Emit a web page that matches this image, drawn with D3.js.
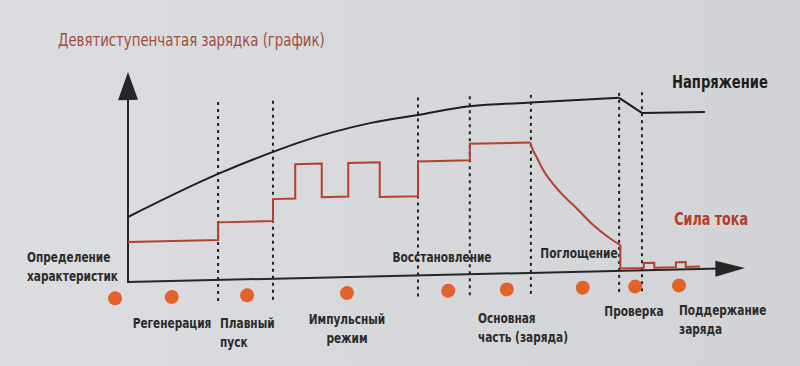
<!DOCTYPE html>
<html><head><meta charset="utf-8">
<script src="https://cdn.jsdelivr.net/npm/d3@7"></script>
<style>html,body{margin:0;padding:0;background:#d8d9dc;}svg{display:block;}</style>
</head><body>
<script>
// ---- data (abstract units: time 0..100, level 0..100) ----
const stageBounds = [14.6, 23.5, 47, 55.4, 65.3, 79.6, 83.3];
const stepTimes   = [0, 14.6, 23.5, 27.1, 31.4, 35.7, 40.8, 47, 55.4, 65.2];
const stepCurrent = [20, 28.8, 39.8, 57, 40.2, 57, 39.6, 57, 65.2, 65.2];
const decayTimes   = [65.2, 65.4, 66.2, 67.3, 70, 72.7, 75.4, 78.1, 79.8];
const decayCurrent = [65.2, 63.1, 58, 51.3, 40.2, 31.8, 23.2, 16.4, 12.9];
const tailTimes   = [79.8, 79.8, 83.6, 85.3, 88.8, 90.4, 92.7];
const tailCurrent = [12.9, 1.2, 3.6, 1.2, 3.6, 1.2, 1.2];
const voltTimes = [0, 14.6, 23.5, 27.9, 33.2, 39.4, 47, 55.4, 65.3, 79.6];
const voltValues = [32.5, 53, 63.4, 68, 72.6, 76.8, 80.2, 84, 85.2, 86.5];
const voltTailTimes = [79.6, 83.3, 93.5];
const voltTailValues = [86.5, 78.7, 78.5];
const dotTimes = [-2.1, 7.1, 19.3, 35.5, 51.9, 61.4, 73.7, 82.2, 89.3];
const title = "Девятиступенчатая зарядка (график)";
const seriesNames = ["Напряжение", "Сила тока"];
const stageLabels = [
  ["Определение", "характеристик"], ["Регенерация"], ["Плавный", "пуск"],
  ["Импульсный", "режим"], ["Восстановление"], ["Основная", "часть (заряда)"],
  ["Поглощение"], ["Проверка"], ["Поддержание", "заряда"]
];

// ---- layout ----
const W = 800, H = 366;
const FONT = "'DejaVu Sans Condensed','DejaVu Sans',sans-serif";
const labelLayout = [
  {x: 27, y: 262, a: "start"}, {x: 172, y: 328, a: "middle"}, {x: 220, y: 328, a: "start"},
  {x: 347, y: 324, a: "middle"}, {x: 442, y: 262, a: "middle"}, {x: 478, y: 323, a: "start"},
  {x: 579, y: 258, a: "middle"}, {x: 634, y: 316, a: "middle"}, {x: 679, y: 315, a: "start"}
];
const lineGap = 19;

const svg = d3.select("body").append("svg").attr("width", W).attr("height", H);
const defs = svg.append("defs");
const grad = defs.append("linearGradient").attr("id", "bg").attr("x1", 0).attr("x2", 1).attr("y1", 0).attr("y2", 0);
grad.append("stop").attr("offset", 0).attr("stop-color", "#dcdde0");
grad.append("stop").attr("offset", 1).attr("stop-color", "#d2d3d7");
svg.append("rect").attr("width", W).attr("height", H).attr("fill", "url(#bg)");

const x = d3.scaleLinear().domain([0, 100]).range([128, 745]);
const y = d3.scaleLinear().domain([0, 100]).range([282, 82]);

const g = svg.append("g")
  .attr("transform", `translate(${x(0)},${y(0)}) skewY(-1.3) translate(${-x(0)},${-y(0)})`);

// dashed stage lines
g.selectAll("line.stage").data(stageBounds).join("line")
  .attr("x1", d => x(d)).attr("x2", d => x(d))
  .attr("y1", y(89)).attr("y2", y(-12))
  .attr("stroke", "#222").attr("stroke-width", 2).attr("stroke-dasharray", "3,4");

// axes
const ink = "#262626";
g.append("line").attr("x1", x(0)).attr("x2", x(0)).attr("y1", y(0)).attr("y2", y(92))
  .attr("stroke", ink).attr("stroke-width", 2);
g.append("path").attr("d", `M${x(0)},${y(105)}L${x(0)+10},${y(91)}L${x(0)-10},${y(91)}Z`).attr("fill", ink);
g.append("line").attr("x1", x(0) - 1).attr("x2", x(96)).attr("y1", y(0)).attr("y2", y(0))
  .attr("stroke", ink).attr("stroke-width", 2);
g.append("path").attr("d", `M${x(100)},${y(0)}L${x(95.2)},${y(0)-8}L${x(95.2)},${y(0)+8}Z`).attr("fill", ink);

// voltage
const volt = voltTimes.map((t, i) => [t, voltValues[i]]);
const voltTail = voltTailTimes.map((t, i) => [t, voltTailValues[i]]);
g.append("path").attr("d", d3.line().x(d => x(d[0])).y(d => y(d[1])).curve(d3.curveMonotoneX)(volt))
  .attr("fill", "none").attr("stroke", "#1e1e1e").attr("stroke-width", 2);
g.append("path").attr("d", d3.line().x(d => x(d[0])).y(d => y(d[1]))(voltTail))
  .attr("fill", "none").attr("stroke", "#1e1e1e").attr("stroke-width", 2);

// current
const red = "#b4412c";
const steps = stepTimes.map((t, i) => [t, stepCurrent[i]]);
const decay = decayTimes.map((t, i) => [t, decayCurrent[i]]);
const tail = tailTimes.map((t, i) => [t, tailCurrent[i]]);
g.append("path").attr("d", d3.line().x(d => x(d[0])).y(d => y(d[1])).curve(d3.curveStepAfter)(steps))
  .attr("fill", "none").attr("stroke", red).attr("stroke-width", 2);
g.append("path").attr("d", d3.line().x(d => x(d[0])).y(d => y(d[1])).curve(d3.curveMonotoneX)(decay))
  .attr("fill", "none").attr("stroke", red).attr("stroke-width", 2);
g.append("path").attr("d", d3.line().x(d => x(d[0])).y(d => y(d[1])).curve(d3.curveStepAfter)(tail))
  .attr("fill", "none").attr("stroke", red).attr("stroke-width", 2);

// stage dots
g.selectAll("circle.dot").data(dotTimes).join("circle")
  .attr("cx", d => x(d)).attr("cy", y(-8)).attr("r", 7).attr("fill", "#e2622a");

// texts (horizontally condensed)
function ctext(px, py, anchor, size, weight, fill, sx) {
  return svg.append("text")
    .attr("transform", `translate(${px},${py}) scale(${sx},1)`)
    .attr("text-anchor", anchor).attr("font-family", FONT)
    .attr("font-size", size).attr("font-weight", weight).attr("fill", fill);
}
ctext(58, 46, "start", 17, "normal", "#a44a3b", 0.87).text(title);
ctext(768, 88, "end", 17, "bold", "#1e1e1e", 0.86).text(seriesNames[0]);
ctext(748, 225, "end", 17, "bold", "#b23d25", 0.83).text(seriesNames[1]);

stageLabels.forEach((lines, i) => {
  const L = labelLayout[i];
  const t = ctext(L.x, L.y, L.a, 13.5, "bold", "#2b2b2b", 0.87);
  lines.forEach((s, j) => t.append("tspan").attr("x", 0).attr("y", j * lineGap).text(s));
});
</script>
</body></html>
